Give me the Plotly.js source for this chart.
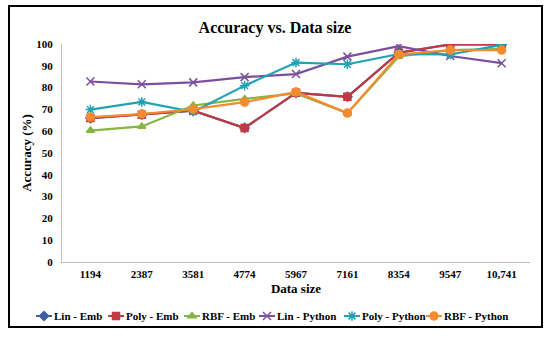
<!DOCTYPE html>
<html><head><meta charset="utf-8">
<script src="https://cdn.plot.ly/plotly-3.0.1.min.js"></script>
<style>
html,body{margin:0;padding:0;background:#fff;}
#wrap{position:relative;width:550px;height:338px;}
#chart{position:absolute;left:0;top:0;width:550px;height:338px;}
#frame{position:absolute;left:8px;top:5px;width:531px;height:319px;border:2px solid #000;pointer-events:none;}
</style></head>
<body><div id="wrap"><div id="chart"></div><div id="frame"></div></div>
<script>
var categories = ["1194","2387","3581","4774","5967","7161","8354","9547","10,741"];
var linEmb     = [66, 67.6, 69.4, 61.5, 77.6, 75.8, 96, 99.8, 99.8];
var polyEmb    = [66, 67.6, 69.4, 61.5, 77.6, 75.8, 96, 99.8, 99.8];
var rbfEmb     = [60.3, 62.2, 71.8, 74.8, 77.3, 68.2, 94.3, 97.2, 97.8];
var linPython  = [82.8, 81.5, 82.4, 84.8, 86.2, 94.2, 99, 94.5, 91.2];
var polyPython = [69.9, 73.4, 68.9, 80.9, 91.5, 90.7, 95.4, 95.2, 99.6];
var rbfPython  = [66.5, 67.9, 70.1, 73.3, 78, 68.3, 95.2, 97.2, 97.2];

var names   = ["Lin - Emb","Poly - Emb","RBF - Emb","Lin - Python","Poly - Python","RBF - Python"];
var series  = [linEmb, polyEmb, rbfEmb, linPython, polyPython, rbfPython];
var colors  = ["#3D5FA8","#BF3B40","#86B544","#7A4F9D","#1FA3B4","#F58B30"];
var symbols = ["diamond","square","triangle-up","x-thin-open","asterisk-open","circle"];
var sizes   = [7,7,7,8,8,8];
// left edge (px) where each legend label's text begins
var legendTextX = [54, 126, 202, 277, 362, 444];

var legendIds = ["legend","legend2","legend3","legend4","legend5","legend6"];
var traces = series.map(function(s,i){
  return {
    x: categories, y: s, name: names[i], type: "scatter", mode: "lines+markers",
    legend: legendIds[i],
    line: {color: colors[i], width: 2.2},
    marker: {color: colors[i], symbol: symbols[i], size: sizes[i], line: {color: colors[i], width: 1.5}}
  };
});

var serif = "Liberation Serif, Times New Roman, serif";
var layout = {
  width: 550, height: 338,
  margin: {l: 62, r: 20, t: 44, b: 76, autoexpand: false},
  paper_bgcolor: "#fff", plot_bgcolor: "#fff",
  title: {text: "<b>Accuracy vs. Data size</b>", font: {family: serif, size: 16, color: "#000"}, x: 0.5, xanchor: "center", y: 0.92, yanchor: "middle"},
  xaxis: {
    type: "category", showgrid: false, zeroline: false,
    showline: true, linecolor: "#bfbfbf", linewidth: 1,
    ticks: "outside", ticklen: 2, tickcolor: "rgba(0,0,0,0)",
    tickfont: {family: serif, size: 11, color: "#000", weight: "bold"},
    title: {text: "<b>Data size</b>", font: {family: serif, size: 13, color: "#000"}, standoff: 4}
  },
  yaxis: {
    range: [0, 100], dtick: 10, showgrid: false, zeroline: false,
    showline: true, linecolor: "#bfbfbf", linewidth: 1,
    ticks: "outside", ticklen: 6, tickcolor: "rgba(0,0,0,0)",
    tickfont: {family: serif, size: 11, color: "#000", weight: "bold"},
    title: {text: "<b>Accuracy (%)</b>", font: {family: serif, size: 13, color: "#000"}, standoff: 1}
  },
  showlegend: true
};
legendIds.forEach(function(id, i){
  layout[id] = {
    orientation: "h", xref: "container", yref: "container",
    x: (legendTextX[i] - 40) / 550, xanchor: "left", y: 1 - 316/338, yanchor: "middle",
    font: {family: serif, size: 11, color: "#000", weight: "bold"},
    itemwidth: 30, bgcolor: "rgba(0,0,0,0)", borderwidth: 0
  };
});
Plotly.newPlot("chart", traces, layout, {displayModeBar: false, staticPlot: true}).then(function(gd){
  // shorten the legend key line to match Excel-style short keys
  gd.querySelectorAll(".legendlines path").forEach(function(p){ p.setAttribute("d", "M22,0h16"); });
  gd.querySelectorAll(".legendpoints path.scatterpts").forEach(function(p){ p.setAttribute("transform", "translate(30,0)"); });
});
</script></body></html>
